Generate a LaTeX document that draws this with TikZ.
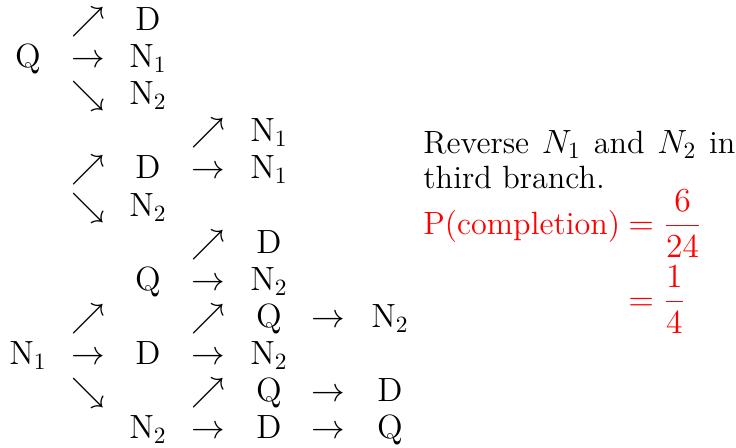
\documentclass[tikz,border=0pt]{standalone}
\usepackage{amsmath, amssymb}
\usepackage{tikz}
\usepackage{xcolor}

\begin{document}
\begin{tikzpicture}[x=0.4286pt,y=-0.4286pt,
  every node/.style={inner sep=0pt,font=\fontsize{13.8}{15}\selectfont},
  cell/.style={anchor=base}]
  \useasboundingbox (0,0) rectangle (736,447);
  % first tree
  \node[cell] (a1r1) at (88,30){$\nearrow$};
  \node[cell] (d1) at (148,30){$\mathrm{D}$};
  \node[cell] (q1) at (28,67){$\mathrm{Q}$};
  \node[cell] (a1r2) at (88,67){$\rightarrow$};
  \node[cell] (n1a) at (148,67){$\mathrm{N}_1$};
  \node[cell] (a1r3) at (88,104){$\searrow$};
  \node[cell] (n2a) at (148,104){$\mathrm{N}_2$};
  % second tree
  \node[cell] (a2r4) at (208,141){$\nearrow$};
  \node[cell] (n1b) at (269,141){$\mathrm{N}_1$};
  \node[cell] (a1r5) at (88,178){$\nearrow$};
  \node[cell] (d2) at (148,178){$\mathrm{D}$};
  \node[cell] (a2r5) at (208,178){$\rightarrow$};
  \node[cell] (n1c) at (269,178){$\mathrm{N}_1$};
  \node[cell] (a1r6) at (88,216){$\searrow$};
  \node[cell] (n2b) at (148,216){$\mathrm{N}_2$};
  % third tree
  \node[cell] (a2r7) at (208,253){$\nearrow$};
  \node[cell] (d3) at (269,253){$\mathrm{D}$};
  \node[cell] (q2) at (148,290){$\mathrm{Q}$};
  \node[cell] (a2r8) at (208,290){$\rightarrow$};
  \node[cell] (n2c) at (269,290){$\mathrm{N}_2$};
  \node[cell] (a1r9) at (88,327){$\nearrow$};
  \node[cell] (a2r9) at (208,327){$\nearrow$};
  \node[cell] (q3) at (269,327){$\mathrm{Q}$};
  \node[cell] (a3r9) at (328,327){$\rightarrow$};
  \node[cell] (n2d) at (390,327){$\mathrm{N}_2$};
  \node[cell] (n1d) at (28,364){$\mathrm{N}_1$};
  \node[cell] (a1r10) at (88,364){$\rightarrow$};
  \node[cell] (d4) at (148,364){$\mathrm{D}$};
  \node[cell] (a2r10) at (208,364){$\rightarrow$};
  \node[cell] (n2e) at (269,364){$\mathrm{N}_2$};
  \node[cell] (a1r11) at (88,401){$\searrow$};
  \node[cell] (a2r11) at (208,401){$\nearrow$};
  \node[cell] (q4) at (269,401){$\mathrm{Q}$};
  \node[cell] (a3r11) at (328,401){$\rightarrow$};
  \node[cell] (d5) at (390,401){$\mathrm{D}$};
  \node[cell] (n2f) at (148,438){$\mathrm{N}_2$};
  \node[cell] (a2r12) at (208,438){$\rightarrow$};
  \node[cell] (d6) at (269,438){$\mathrm{D}$};
  \node[cell] (a3r12) at (328,438){$\rightarrow$};
  \node[cell] (q5) at (390,438){$\mathrm{Q}$};
  % note
  \node[anchor=base west,text width=312*0.4286pt,align=justify] (note) at (423,153)
    {Reverse $N_1$ and $N_2$ in third branch.};
  % probability
  \node[anchor=base west,red] (plhs) at (423,234){P(completion)};
  \node[anchor=base west,red] (pfirst) at (628,234){$=\dfrac{6}{24}$};
  \node[anchor=base west,red] (psecond) at (628,310){$=\dfrac{1}{4}$};
\end{tikzpicture}
\end{document}
